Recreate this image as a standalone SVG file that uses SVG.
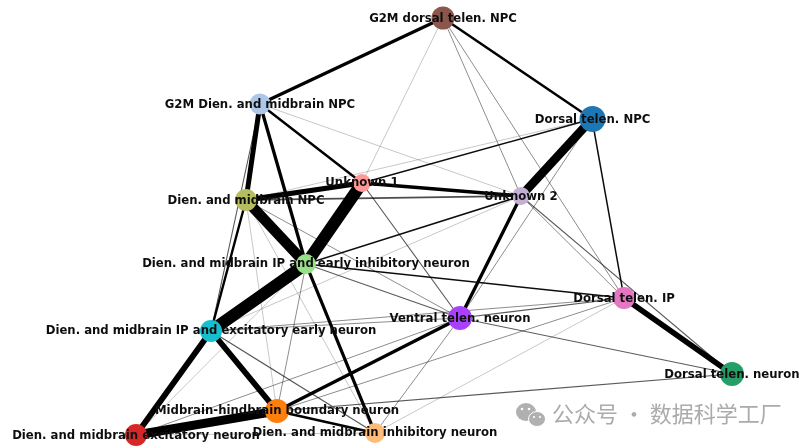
<svg xmlns="http://www.w3.org/2000/svg" width="805" height="447" viewBox="0 0 805 447">
<style>
.e{stroke:#000;fill:none;stroke-linecap:butt}
.a{stroke-width:.8;stroke-opacity:.28}
.b{stroke-width:1;stroke-opacity:.45}
.c{stroke-width:1.1;stroke-opacity:.65}
.d{stroke-width:1.5;stroke-opacity:.95}
text.l{font:bold 11.7px "DejaVu Sans",sans-serif;fill:#111;text-anchor:middle;dominant-baseline:central}
.w{font:22px "Noto Sans CJK SC",sans-serif;fill:#ababab}
</style>
<defs><filter id="s" x="-2%" y="-2%" width="104%" height="104%"><feGaussianBlur stdDeviation="0.45"/></filter></defs>
<rect width="805" height="447" fill="#fff"/>
<g filter="url(#s)">
<g id="connectors">
<path class="e a" d="M443 18L362 183M260 104L521 196M246 200L592 119M246 200L277 411M246 200L375 433M211 331L521 196M136 435L306 264M136 435L375 433M375 433L624 298"/>
<path class="e b" d="M443 18L521 196M443 18L624 298M592 119L460 318M521 196L624 298M277 411L306 264M211 331L460 318M211 331L624 298M136 435L460 318M277 411L624 298M375 433L460 318M246 200L460 318"/>
<path class="e c" d="M362 183L460 318M521 196L732 374M306 264L460 318M460 318L732 374M460 318L624 298M277 411L732 374M211 331L375 433M260 104L211 331"/>
<path class="e d" d="M362 183L592 119M592 119L624 298M306 264L521 196M306 264L624 298"/>
<path class="e" stroke-width="1.8" stroke-opacity=".7" d="M246 200L521 196"/>
<path class="e" stroke-width="2.4" d="M443 18L592 119M260 104L362 183M246 200L211 331M277 411L375 433"/>
<path class="e" stroke-width="3.3" d="M443 18L260 104M260 104L306 264M362 183L521 196M521 196L460 318M306 264L375 433M277 411L460 318"/>
<path class="e" stroke-width="5" d="M246 200L362 183M260 104L246 200"/>
<path class="e" stroke-width="5.8" d="M211 331L136 435M211 331L277 411M624 298L732 374"/>
<path class="e" stroke-width="8.500" d="M592 119L521 196"/>
<path class="e" stroke-width="9" d="M136 435L277 411"/>
<path class="e" stroke-width="10.500" d="M246 200L306 264"/>
<path class="e" stroke-width="12" d="M362 183L306 264M306 264L211 331"/>
</g>
<g id="n-g2m-dorsal"><circle cx="443" cy="18" r="11.5" fill="#8c564b"/><text class="l" x="443" y="18">G2M dorsal telen. NPC</text></g>
<g id="n-dorsal-npc"><circle cx="592.500" cy="119" r="13" fill="#1f77b4"/><text class="l" x="592.500" y="119">Dorsal telen. NPC</text></g>
<g id="n-g2m-dien"><circle cx="260" cy="104" r="10.500" fill="#aec7e8"/><text class="l" x="260" y="104">G2M Dien. and midbrain NPC</text></g>
<g id="n-unknown1"><circle cx="362" cy="183" r="9" fill="#ff9896"/><text class="l" x="362" y="182">Unknown 1</text></g>
<g id="n-unknown2"><circle cx="521" cy="196" r="9" fill="#c5b0d5"/><text class="l" x="521" y="196">Unknown 2</text></g>
<g id="n-dien-npc"><circle cx="246" cy="200" r="11" fill="#b5bd61"/><text class="l" x="246" y="200">Dien. and midbrain NPC</text></g>
<g id="n-ip-early"><circle cx="306" cy="264" r="10" fill="#98df8a"/><text class="l" x="306" y="263">Dien. and midbrain IP and early inhibitory neuron</text></g>
<g id="n-ip-exc"><circle cx="211" cy="331" r="11" fill="#17becf"/><text class="l" x="211" y="330">Dien. and midbrain IP and excitatory early neuron</text></g>
<g id="n-ventral"><circle cx="460" cy="318" r="12" fill="#aa40fc"/><text class="l" x="460" y="318">Ventral telen. neuron</text></g>
<g id="n-dorsal-ip"><circle cx="624" cy="298" r="11" fill="#e377c2"/><text class="l" x="624" y="298">Dorsal telen. IP</text></g>
<g id="n-dorsal-neuron"><circle cx="732" cy="374" r="12" fill="#279e68"/><text class="l" x="732" y="374">Dorsal telen. neuron</text></g>
<g id="n-mh"><circle cx="277" cy="411" r="12" fill="#ff7f0e"/><text class="l" x="277" y="410">Midbrain-hindbrain boundary neuron</text></g>
<g id="n-exc"><circle cx="136" cy="435" r="11" fill="#d62728"/><text class="l" x="136" y="435">Dien. and midbrain excitatory neuron</text></g>
<g id="n-inh"><circle cx="375" cy="433" r="10" fill="#ffbb78"/><text class="l" x="375" y="432">Dien. and midbrain inhibitory neuron</text></g>
<g id="watermark">
<ellipse cx="526" cy="412" rx="10" ry="9" fill="#b0b0b0"/>
<ellipse cx="537" cy="419" rx="8.500" ry="7.500" fill="#b0b0b0" stroke="#fff"/>
<circle cx="522" cy="409" r="1.300" fill="#fff"/><circle cx="529" cy="409" r="1.300" fill="#fff"/><circle cx="534" cy="417" r="1.100" fill="#fff"/><circle cx="540" cy="417" r="1.100" fill="#fff"/>
<text class="w" x="552" y="422">公众号 · 数据科学工厂</text>
</g>
</g>
</svg>
